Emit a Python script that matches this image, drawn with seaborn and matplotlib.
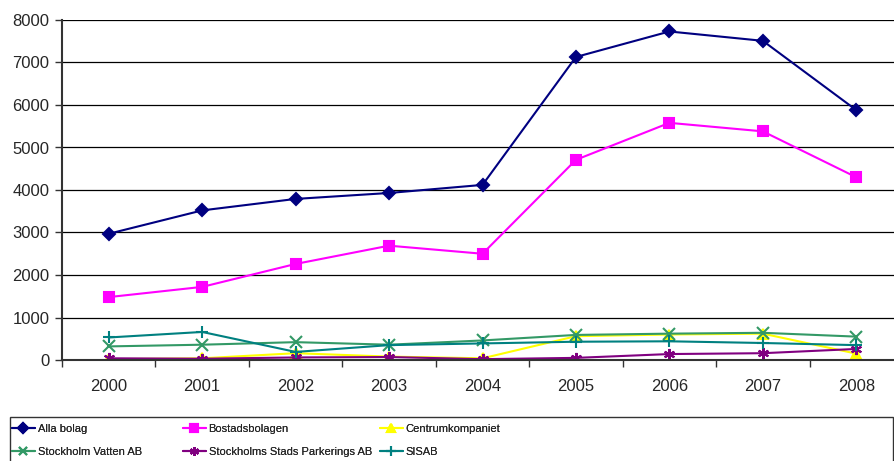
import numpy as np
import pandas as pd
import matplotlib
matplotlib.use("Agg")
import matplotlib.pyplot as plt
from matplotlib.patches import Rectangle
import seaborn as sns

# =========================
# DATA
# =========================

years = [2000, 2001, 2002, 2003, 2004, 2005, 2006, 2007, 2008]

alla_bolag = [2970, 3520, 3790, 3930, 4120, 7130, 7730, 7510, 5880]
bostadsbolagen = [1480, 1720, 2260, 2690, 2500, 4710, 5580, 5380, 4300]
centrumkompaniet = [20, 40, 160, 80, 40, 560, 600, 620, 150]
vatten = [320, 360, 420, 360, 460, 590, 620, 640, 550]
parkering = [40, 30, 60, 70, 20, 50, 140, 160, 260]
sisab = [530, 660, 190, 350, 390, 430, 440, 400, 350]

series_names = ["Alla bolag", "Bostadsbolagen", "Centrumkompaniet",
                "Stockholm Vatten AB", "Stockholms Stads Parkerings AB", "SISAB"]
series_values = [alla_bolag, bostadsbolagen, centrumkompaniet, vatten, parkering, sisab]

colors = ["#000080", "#FF00FF", "#FFFF00", "#339966", "#800080", "#008080"]
markers = ["D", "s", "^", "x", (6, 2, 0), "+"]
msizes = [6, 7, 7, 8, 8, 9]

df = pd.DataFrame({
    "year": years * len(series_names),
    "value": sum(series_values, []),
    "serie": np.repeat(series_names, len(years)),
})

# =========================
# PLOT
# =========================

sns.set_style("white")
plt.rcParams["font.family"] = ["Liberation Sans", "DejaVu Sans"]

fig = plt.figure(figsize=(8.95, 4.61), dpi=100)
ax = fig.add_axes([62 / 895, 1 - 360 / 461, 841 / 895, 340 / 461])

handles = []
for name, col, mk, ms in zip(series_names, colors, markers, msizes):
    sub = df[df["serie"] == name]
    sns.lineplot(data=sub, x="year", y="value", ax=ax, color=col,
                 marker=mk, markersize=ms, markeredgecolor=col,
                 markeredgewidth=1.5, linewidth=1.5, label=name, legend=False)
    handles.append(ax.lines[-1])

ax.set_xlim(1999.5, 2008.5)
ax.set_ylim(0, 8000)
ax.set_yticks(range(0, 8001, 1000))
ax.set_xticks(years)
ax.set_xticks(np.arange(1999.5, 2008.6, 1), minor=True)
ax.set_xlabel("")
ax.set_ylabel("")

ax.yaxis.grid(True, color="#000000", linewidth=0.9)
ax.set_axisbelow(True)
for s in ["top", "right"]:
    ax.spines[s].set_visible(False)
for s in ["left", "bottom"]:
    ax.spines[s].set_color("#333333")
    ax.spines[s].set_linewidth(1.5)

ax.tick_params(axis="y", which="major", left=True, length=5, width=1,
               color="#333333", labelsize=12, pad=4)
ax.tick_params(axis="x", which="major", bottom=False, labelsize=12, pad=10)
ax.tick_params(axis="x", which="minor", bottom=True, length=5, width=1,
               color="#333333")

# legend box
fig.patches.append(Rectangle((10 / 895, -0.1), 883 / 895, 0.1 + 1 - 417 / 461,
                             transform=fig.transFigure, fill=False,
                             edgecolor="#333333", linewidth=1))

col_x = [12 / 895, 183 / 895, 380 / 895]
for i in range(3):
    leg = fig.legend(handles=[handles[i], handles[i + 3]],
                     labels=[series_names[i], series_names[i + 3]],
                     loc="upper left", bbox_to_anchor=(col_x[i], 1 - 424 / 461),
                     frameon=False, borderpad=0, borderaxespad=0,
                     handlelength=2.05, handletextpad=0.25, labelspacing=1.15,
                     markerscale=0.8, prop={"size": 8})
    fig.add_artist(leg)

fig.savefig("out.png", dpi=100)
